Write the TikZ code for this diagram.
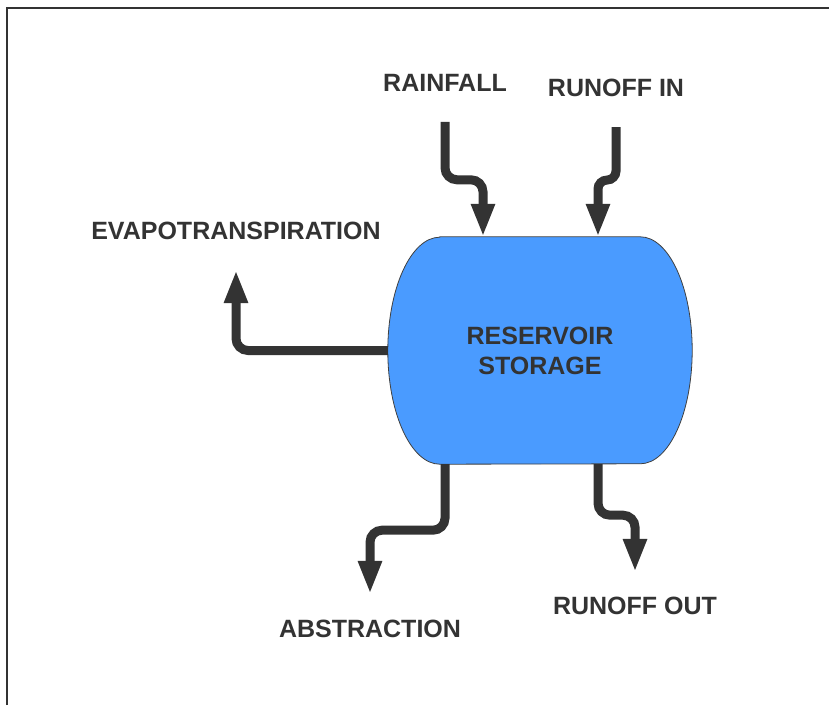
\documentclass[tikz,border=0pt]{standalone}
\usepackage{fontspec}
\setmainfont{Liberation Sans}
\usetikzlibrary{arrows.meta,backgrounds}
\definecolor{flowgray}{HTML}{333333}
\definecolor{resblue}{HTML}{4A9BFF}

\begin{document}
\begin{tikzpicture}[x=1pt, y=1pt,
    lbl/.style={font=\fontsize{25}{30}\selectfont\bfseries, text=flowgray, inner sep=0pt},
    flow/.style={draw=flowgray, line width=9pt, rounded corners=12pt, -{Triangle[length=33pt,width=22pt]}}]

    \useasboundingbox (0,0) rectangle (829,705);
    \draw[line width=1.2pt, black!80] (7,0) -- (7,697) -- (829,697);

    \node[lbl] (rain) at (445,622) {RAINFALL};
    \node[lbl] (runin) at (616,617) {RUNOFF IN};
    \node[lbl] (evap) at (236,474) {EVAPOTRANSPIRATION};
    \node[lbl, align=center, minimum width=304pt, minimum height=227pt] (res) at (540,354.5) {RESERVOIR\\STORAGE};
    \node[lbl] (abs) at (370,76) {ABSTRACTION};
    \node[lbl] (runout) at (635,99) {RUNOFF OUT};

    \begin{scope}[on background layer]
        \draw[fill=resblue, draw=black!75, line width=0.8pt]
            ([xshift=52pt]res.north west) -- ([xshift=-52pt]res.north east)
            arc[start angle=90, end angle=-90, x radius=52pt, y radius=113.5pt]
            -- ([xshift=52pt]res.south west)
            arc[start angle=270, end angle=90, x radius=52pt, y radius=113.5pt] -- cycle;
    \end{scope}

    \draw[flow] ([yshift=-30pt]rain.south) -- ++(0,-58) -| ([xshift=-57pt]res.north);
    \draw[flow, rounded corners=9pt] ([yshift=-30pt]runin.south) -- ++(0,-53) -| ([xshift=58pt]res.north);
    \draw[flow] (res.west) -| ([yshift=-30pt]evap.south);
    \draw[flow] ([xshift=-95pt]res.south) -- ++(0,-66) -| ([yshift=26pt]abs.north);
    \draw[flow] ([xshift=58pt]res.south) -- ++(0,-51) -| ([yshift=25pt]runout.north);

\end{tikzpicture}
\end{document}
